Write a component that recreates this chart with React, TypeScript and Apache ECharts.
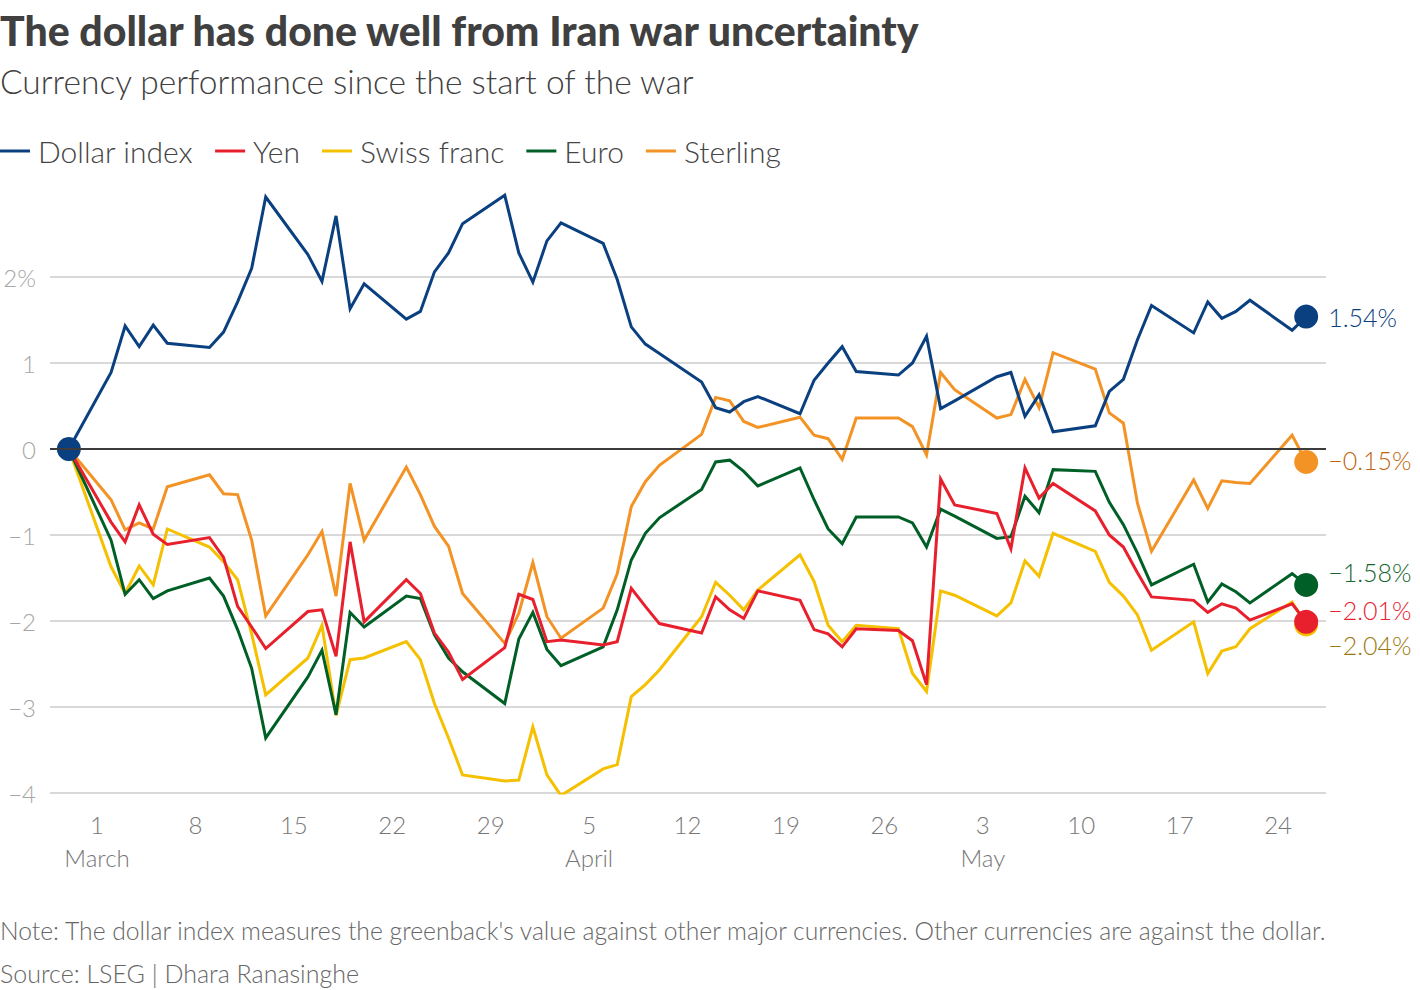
import { useEffect, useRef } from "react";
import * as echarts from "echarts";

// Trading days since the start of the war
const dates = [
  "2026-02-27",
  "2026-03-02", "2026-03-03", "2026-03-04", "2026-03-05", "2026-03-06",
  "2026-03-09", "2026-03-10", "2026-03-11", "2026-03-12", "2026-03-13",
  "2026-03-16", "2026-03-17", "2026-03-18", "2026-03-19", "2026-03-20",
  "2026-03-23", "2026-03-24", "2026-03-25", "2026-03-26", "2026-03-27",
  "2026-03-30", "2026-03-31", "2026-04-01", "2026-04-02", "2026-04-03",
  "2026-04-06", "2026-04-07", "2026-04-08", "2026-04-09", "2026-04-10",
  "2026-04-13", "2026-04-14", "2026-04-15", "2026-04-16", "2026-04-17",
  "2026-04-20", "2026-04-21", "2026-04-22", "2026-04-23", "2026-04-24",
  "2026-04-27", "2026-04-28", "2026-04-29", "2026-04-30", "2026-05-01",
  "2026-05-04", "2026-05-05", "2026-05-06", "2026-05-07", "2026-05-08",
  "2026-05-11", "2026-05-12", "2026-05-13", "2026-05-14", "2026-05-15",
  "2026-05-18", "2026-05-19", "2026-05-20", "2026-05-21", "2026-05-22",
  "2026-05-25", "2026-05-26",
];

// % change since Feb 27
const dollarIndex = [
  0,
  0.89, 1.43, 1.19, 1.44, 1.23,
  1.18, 1.36, 1.71, 2.10, 2.93,
  2.26, 1.95, 2.71, 1.63, 1.92,
  1.51, 1.60, 2.06, 2.28, 2.62,
  2.95, 2.28, 1.94, 2.42, 2.63,
  2.39, 1.97, 1.42, 1.22, 1.11,
  0.78, 0.48, 0.43, 0.55, 0.61,
  0.41, 0.80, 1.00, 1.19, 0.90,
  0.86, 1.00, 1.31, 0.47, 0.56,
  0.84, 0.89, 0.38, 0.63, 0.20,
  0.27, 0.67, 0.81, 1.27, 1.67,
  1.35, 1.71, 1.52, 1.60, 1.73,
  1.38, 1.54,
];

const yen = [
  0,
  -0.85, -1.08, -0.65, -0.99, -1.11,
  -1.03, -1.26, -1.83, -2.07, -2.32,
  -1.89, -1.87, -2.41, -1.08, -2.01,
  -1.52, -1.68, -2.14, -2.36, -2.68,
  -2.31, -1.69, -1.75, -2.24, -2.22,
  -2.28, -2.24, -1.62, -1.83, -2.03,
  -2.14, -1.72, -1.87, -1.97, -1.65,
  -1.76, -2.10, -2.15, -2.30, -2.09,
  -2.11, -2.23, -2.74, -0.35, -0.65,
  -0.75, -1.16, -0.22, -0.57, -0.40,
  -0.72, -1.00, -1.14, -1.44, -1.72,
  -1.76, -1.90, -1.80, -1.85, -1.99,
  -1.80, -2.01,
];

const swissFranc = [
  0,
  -1.37, -1.68, -1.36, -1.58, -0.93,
  -1.14, -1.31, -1.52, -2.15, -2.86,
  -2.43, -2.05, -3.10, -2.45, -2.43,
  -2.24, -2.45, -2.96, -3.36, -3.79,
  -3.86, -3.85, -3.23, -3.79, -4.03,
  -3.72, -3.67, -2.88, -2.74, -2.57,
  -1.95, -1.55, -1.70, -1.87, -1.64,
  -1.23, -1.54, -2.05, -2.24, -2.05,
  -2.09, -2.61, -2.82, -1.65, -1.70,
  -1.94, -1.79, -1.30, -1.48, -0.98,
  -1.19, -1.55, -1.71, -1.93, -2.34,
  -2.01, -2.61, -2.35, -2.30, -2.09,
  -1.78, -2.04,
];

const euro = [
  0,
  -1.06, -1.69, -1.52, -1.74, -1.65,
  -1.50, -1.71, -2.10, -2.55, -3.36,
  -2.65, -2.34, -3.09, -1.90, -2.07,
  -1.71, -1.74, -2.16, -2.43, -2.59,
  -2.96, -2.21, -1.90, -2.33, -2.52,
  -2.30, -1.87, -1.29, -0.98, -0.80,
  -0.47, -0.15, -0.13, -0.26, -0.43,
  -0.22, -0.59, -0.93, -1.10, -0.79,
  -0.79, -0.86, -1.14, -0.70, -0.78,
  -1.04, -1.02, -0.55, -0.74, -0.24,
  -0.26, -0.62, -0.88, -1.21, -1.58,
  -1.34, -1.78, -1.57, -1.66, -1.79,
  -1.45, -1.58,
];

const sterling = [
  0,
  -0.59, -0.94, -0.86, -0.93, -0.44,
  -0.30, -0.52, -0.53, -1.06, -1.94,
  -1.23, -0.96, -1.71, -0.40, -1.06,
  -0.21, -0.53, -0.90, -1.13, -1.68,
  -2.26, -1.91, -1.32, -1.95, -2.20,
  -1.85, -1.45, -0.67, -0.38, -0.19,
  0.17, 0.60, 0.56, 0.32, 0.25,
  0.37, 0.16, 0.12, -0.12, 0.36,
  0.36, 0.26, -0.07, 0.89, 0.69,
  0.36, 0.40, 0.81, 0.48, 1.12,
  0.93, 0.42, 0.30, -0.63, -1.19,
  -0.36, -0.69, -0.37, -0.39, -0.40,
  0.16, -0.15,
];

const legendOrder = ["Dollar index", "Yen", "Swiss franc", "Euro", "Sterling"];
const monthNames = ["January", "February", "March", "April", "May", "June"];
// Tick positions in days after March 1
const xTickDays = [0, 7, 14, 21, 28, 35, 42, 49, 56, 63, 70, 77, 84];
const yTicks = [-4, -3, -2, -1, 0, 1, 2, 3];

const FONT = "Lato, 'Noto Sans', sans-serif";
const ORIGIN = Date.UTC(2026, 2, 1);
const DAY = 86400000;

const dayOffset = (iso: string) => {
  const [y, m, d] = iso.split("-").map(Number);
  return Math.round((Date.UTC(y, m - 1, d) - ORIGIN) / DAY);
};

const minus = (s: string) => s.replace("-", "\u2212");

type Spec = {
  name: string;
  values: number[];
  color: string;
  labelColor: string;
  labelDy: number;
  startDot?: boolean;
};

// Drawing order: the dollar index sits on top
const specs: Spec[] = [
  { name: "Sterling", values: sterling, color: "#f39325", labelColor: "#c0650f", labelDy: -2 },
  { name: "Swiss franc", values: swissFranc, color: "#f5c000", labelColor: "#9a7a10", labelDy: 21 },
  { name: "Euro", values: euro, color: "#005f27", labelColor: "#17642e", labelDy: -13 },
  { name: "Yen", values: yen, color: "#e8202e", labelColor: "#e8202e", labelDy: -12 },
  { name: "Dollar index", values: dollarIndex, color: "#0b4080", labelColor: "#0b4080", labelDy: 0, startDot: true },
];

export default function App() {
  const ref = useRef<HTMLDivElement>(null);

  useEffect(() => {
    if (!ref.current) return;
    const chart = echarts.init(ref.current, undefined, { renderer: "svg" });

    const series = specs.map((s) => {
      const last = s.values.length - 1;
      const data = s.values.map((v, i) => {
        const item: any = { value: [dayOffset(dates[i]), v] };
        if (i === last) {
          item.symbol = "circle";
          item.symbolSize = 24;
          item.label = {
            show: true,
            position: "right",
            distance: 10,
            offset: [0, s.labelDy],
            formatter: () => minus(v.toFixed(2)) + "%",
            color: s.labelColor,
            fontFamily: FONT,
            fontSize: 25,
            fontWeight: 300,
          };
        } else if (i === 0 && s.startDot) {
          item.symbol = "circle";
          item.symbolSize = 24;
        }
        return item;
      });
      const ser: any = {
        name: s.name,
        type: "line",
        data,
        symbol: "none",
        showSymbol: true,
        showAllSymbol: true,
        color: s.color,
        lineStyle: { width: 3, color: s.color, join: "miter" },
        itemStyle: { color: s.color },
        emphasis: { disabled: true },
        silent: true,
      };
      return ser;
    });

    // Zero baseline
    series.unshift({
      name: "zero",
      type: "line",
      data: [],
      silent: true,
      markLine: {
        silent: true,
        symbol: "none",
        label: { show: false },
        lineStyle: { color: "#3c3c3c", width: 2, type: "solid" },
        data: [{ yAxis: 0 }],
      },
    });

    chart.setOption({
      animation: false,
      textStyle: { fontFamily: FONT },
      grid: { left: 50, right: 94, top: 191, bottom: 197, containLabel: false },
      legend: {
        data: legendOrder,
        left: 0,
        top: 136,
        padding: 0,
        icon: "rect",
        itemWidth: 30,
        itemHeight: 3,
        itemGap: 22,
        selectedMode: false,
        textStyle: {
          fontFamily: FONT,
          fontSize: 30,
          fontWeight: 300,
          color: "#444",
          padding: [0, 0, 0, 3],
        },
      },
      xAxis: {
        type: "value",
        min: -3.343,
        max: 87.41,
        axisLine: { show: false },
        axisTick: { show: false },
        splitLine: { show: false },
        axisLabel: {
          customValues: xTickDays,
          margin: 15,
          formatter: (v: number) => {
            const d = new Date(ORIGIN + Math.round(v) * DAY);
            const day = d.getUTCDate();
            if (day <= 7) {
              return `{d|${day}}\n{m|${monthNames[d.getUTCMonth()]}}`;
            }
            return `{d|${day}}`;
          },
          rich: {
            d: { fontFamily: FONT, fontSize: 24, fontWeight: 300, color: "#777", lineHeight: 33 },
            m: { fontFamily: FONT, fontSize: 24, fontWeight: 300, color: "#777", lineHeight: 33 },
          },
        },
      },
      yAxis: {
        type: "value",
        min: -4,
        max: 3,
        interval: 1,
        axisLine: { show: false },
        axisTick: { show: false },
        axisLabel: {
          margin: 14,
          fontFamily: FONT,
          fontSize: 24,
          fontWeight: 300,
          color: "#a6a6a6",
          formatter: (v: number) => {
            if (v === 3) return "";
            if (v === 2) return "2%";
            return minus(String(v));
          },
        },
        splitLine: {
          show: true,
          lineStyle: {
            width: 1.5,
            color: yTicks.map((t) => (t === 0 || t === 3 ? "rgba(0,0,0,0)" : "#cccccc")),
          },
        },
      },
      graphic: [
        {
          type: "text",
          x: 0,
          y: 30,
          style: {
            text: "The dollar has done well from Iran war uncertainty",
            fontFamily: FONT,
            fontSize: 41,
            fontWeight: 900,
            fill: "#404040",
            textVerticalAlign: "middle",
          },
        },
        {
          type: "text",
          x: 0,
          y: 81,
          style: {
            text: "Currency performance since the start of the war",
            fontFamily: FONT,
            fontSize: 33.5,
            fontWeight: 300,
            fill: "#404040",
            textVerticalAlign: "middle",
          },
        },
        {
          type: "text",
          x: 0,
          y: 930,
          style: {
            text: "Note: The dollar index measures the greenback's value against other major currencies. Other currencies are against the dollar.",
            fontFamily: FONT,
            fontSize: 24.7,
            fontWeight: 300,
            fill: "#666",
            textVerticalAlign: "middle",
          },
        },
        {
          type: "text",
          x: 0,
          y: 973,
          style: {
            text: "Source: LSEG | Dhara Ranasinghe",
            fontFamily: FONT,
            fontSize: 25,
            fontWeight: 300,
            fill: "#666",
            textVerticalAlign: "middle",
          },
        },
      ],
      series,
    });

    return () => chart.dispose();
  }, []);

  return (
    <div
      ref={ref}
      style={{ position: "fixed", left: 0, top: 0, width: 1420, height: 990, background: "#fff" }}
    />
  );
}
